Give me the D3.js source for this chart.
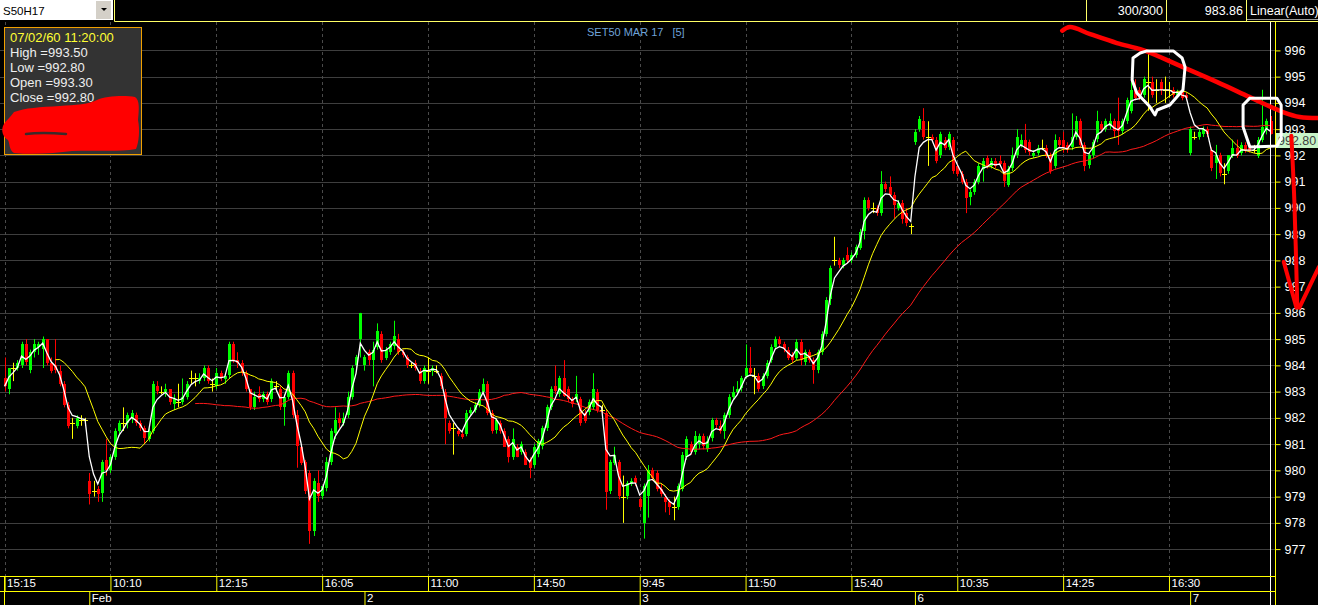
<!DOCTYPE html>
<html><head><meta charset="utf-8">
<script src="https://cdn.jsdelivr.net/npm/d3@7"></script>
<style>body{margin:0;background:#000;overflow:hidden}svg{display:block}text{font-family:"Liberation Sans",Arial,sans-serif}</style>
</head><body>
<script>
// ---------- DATA (5-minute bars, S50H17) ----------
const opens = [
983.5,983.1,983.9,983.9,984.0,984.8,983.8,984.5,984.7,984.6,985.0,984.1,984.0,983.8,983.3,982.5,981.8,981.7,981.9,981.9,
979.6,979.2,979.3,979.1,980.4,980.0,980.5,981.5,981.8,981.8,982.0,982.1,981.8,981.6,981.2,981.5,983.2,983.0,983.0,983.1,
982.5,982.6,982.6,982.8,983.5,983.5,983.4,983.5,983.9,983.3,983.2,983.7,983.5,983.6,984.8,984.2,984.1,983.7,983.1,982.4,
982.9,982.7,982.9,982.7,983.2,983.1,982.4,982.8,983.7,982.1,980.9,980.3,979.9,977.7,979.5,979.0,979.3,980.3,981.4,982.0,
981.8,982.1,982.8,984.0,985.0,
984.0,984.5,984.2,984.7,985.2,984.3,984.5,984.7,985.0,984.5,984.3,984.0,984.1,983.8,983.4,983.8,983.8,983.8,983.6,983.0,
981.8,981.6,981.5,981.4,981.4,982.2,982.3,982.5,983.0,983.3,982.2,981.5,981.8,981.5,981.2,980.5,980.9,980.7,980.7,980.4,
980.2,980.6,980.9,981.6,982.4,983.2,982.9,983.5,983.1,982.7,982.7,982.7,982.2,982.2,982.4,983.0,982.3,982.2,979.2,980.3,
980.3,979.0,979.0,979.5,979.7,
978.9,978.0,979.0,980.0,979.9,979.3,979.0,978.8,978.6,978.6,979.3,980.5,981.0,980.7,981.0,981.3,980.8,981.2,981.9,981.7,
981.5,982.1,982.8,983.0,983.1,983.6,983.9,983.6,983.6,983.2,983.6,984.2,984.7,985.0,984.8,984.6,984.4,984.3,984.9,984.1,
984.5,984.2,983.8,984.5,985.2,986.5,988.0,988.0,987.8,988.2,988.0,988.2,988.5,989.1,990.3,990.0,990.0,989.8,990.9,990.8,
990.5,990.0,990.2,989.8,989.3,
992.5,993.0,993.3,992.7,992.7,992.6,992.0,992.6,992.3,992.6,991.6,991.3,991.0,990.4,990.6,991.0,991.5,991.9,991.6,991.8,
991.8,991.7,990.9,991.5,992.0,992.4,992.6,992.5,992.0,992.1,992.3,992.3,992.0,991.6,992.6,992.6,992.4,992.3,992.7,993.3,
992.4,991.6,992.0,992.6,993.2,993.0,993.1,993.3,993.3,992.9,993.3,993.7,994.5,994.5,994.3,994.8,994.8,994.5,994.8,994.5,
994.5,994.5,994.3,994.5,994.3,
992.1,992.7,992.7,992.8,993.0,992.2,991.7,992.0,991.3,991.4,992.0,992.3,992.1,992.4,992.3,992.2,992.0,992.6,993.0,993.3];
const highs = [
984.3,983.9,984.1,984.2,984.9,985.0,984.6,985.0,984.9,985.1,985.0,984.3,985.0,984.0,983.4,982.6,982.0,982.1,982.1,982.0,
979.9,979.6,979.4,980.4,981.2,980.6,981.6,981.9,982.4,982.2,982.3,982.2,981.9,981.7,981.6,983.4,983.4,983.2,983.3,983.1,
982.9,983.3,983.5,983.4,983.8,983.7,983.7,984.0,984.0,983.5,983.9,983.8,983.7,984.9,984.9,984.5,984.2,983.8,983.1,983.0,
983.2,983.0,983.0,983.5,983.4,983.2,982.9,983.8,983.8,982.3,981.0,980.4,980.0,979.7,980.0,979.4,980.5,981.6,982.4,982.2,
982.2,983.0,984.0,984.4,986.0,
984.4,984.6,984.9,985.6,985.3,984.7,984.9,985.7,985.2,984.6,984.4,984.1,984.2,983.9,984.0,984.3,984.0,984.0,983.7,983.1,
981.9,981.8,981.6,981.5,982.3,982.4,982.6,983.1,983.5,983.4,982.3,982.0,981.9,981.6,981.3,981.6,981.0,981.1,980.8,980.5,
981.0,981.2,981.7,982.5,983.2,984.0,983.6,984.2,983.2,982.8,983.6,982.8,982.3,982.7,983.7,983.1,982.5,982.3,980.4,980.9,
980.4,979.8,979.6,979.7,979.8,
979.0,979.5,980.2,980.1,980.0,979.5,979.1,978.9,979.0,979.5,980.7,981.3,981.1,981.5,981.4,981.4,981.3,982.0,982.0,981.9,
982.2,982.9,983.2,983.4,983.6,984.8,984.7,983.9,983.7,983.7,984.2,984.8,985.1,985.1,984.9,984.7,984.5,985.0,985.0,984.6,
984.6,984.3,984.6,985.3,986.6,987.8,988.9,988.1,988.1,988.5,988.3,988.6,989.2,990.4,990.4,990.2,990.1,991.4,991.0,991.2,
990.6,990.3,990.3,990.0,989.4,
993.0,993.5,993.8,993.3,992.8,992.7,992.9,992.7,992.9,992.7,991.7,991.4,991.1,990.7,991.1,991.7,991.9,992.0,991.9,991.9,
992.0,991.8,991.6,992.3,993.0,992.8,993.2,992.6,992.2,992.4,992.6,992.4,992.1,992.8,992.7,992.9,992.5,993.6,993.5,993.4,
992.5,992.1,992.6,993.7,993.3,993.4,993.6,993.4,994.2,993.4,994.2,995.0,994.9,994.6,995.0,995.9,995.0,994.9,994.9,995.0,
994.8,994.6,994.5,994.6,994.4,
993.1,992.9,993.0,993.1,993.1,992.3,992.4,992.1,991.7,992.0,992.6,992.6,992.5,992.5,992.4,992.4,992.7,994.5,993.4,993.5];
const lows = [
983.0,982.9,983.4,983.8,983.9,984.0,983.7,984.3,984.4,983.9,984.0,983.7,983.7,983.2,982.4,981.6,981.2,981.6,981.7,981.7,
978.7,979.0,978.8,978.8,979.8,979.9,980.4,981.3,981.5,981.6,981.8,981.7,981.5,981.0,981.1,981.4,982.9,982.9,982.8,982.5,
982.3,982.4,982.5,982.7,983.3,983.2,983.3,983.4,983.3,983.0,983.1,983.4,983.3,983.5,984.1,983.9,983.6,983.0,982.3,982.3,
982.6,982.6,982.5,982.6,983.0,982.3,981.7,982.7,982.0,980.1,980.2,979.1,977.2,977.5,978.8,978.9,979.2,980.2,981.2,981.6,
981.7,982.0,982.7,983.9,984.3,
983.8,984.0,983.2,984.6,984.1,984.2,984.4,984.6,984.4,984.3,983.9,983.9,983.8,983.3,983.3,983.3,983.6,983.7,983.1,981.0,
981.4,980.6,981.3,981.2,981.3,982.1,982.2,982.4,982.9,982.1,981.4,981.4,981.4,980.9,980.3,980.4,980.5,980.6,980.2,979.7,
980.1,980.5,980.8,981.5,982.3,982.9,982.8,982.8,982.6,982.4,982.6,981.7,981.8,982.1,982.3,982.2,982.2,978.5,979.1,980.2,
978.9,978.0,978.9,979.4,979.4,
978.5,977.4,978.2,979.6,979.2,979.0,978.4,978.3,978.1,978.5,979.2,980.4,980.6,980.6,980.8,980.8,980.7,981.1,981.6,981.4,
981.2,982.0,982.7,982.9,983.0,983.5,983.6,982.9,983.0,983.1,983.5,984.1,984.6,984.7,984.5,984.2,984.1,984.2,984.0,984.0,
984.1,983.3,983.7,984.4,985.1,986.3,987.8,987.7,987.7,987.9,987.9,988.1,988.4,988.8,989.9,989.8,989.7,989.7,990.6,990.4,
989.6,989.9,989.4,989.3,989.0,
992.4,992.9,992.6,991.6,992.5,991.7,991.9,992.2,992.2,991.3,991.2,990.9,989.8,990.1,990.5,990.9,991.0,991.5,991.5,991.5,
991.6,990.8,990.8,991.4,991.9,992.3,992.1,992.0,991.9,992.0,992.2,991.9,991.3,991.5,992.3,992.1,992.1,992.2,992.6,992.3,
991.4,991.5,991.9,992.5,992.9,992.9,993.0,992.7,992.4,992.8,993.2,993.6,994.1,994.1,994.2,993.7,994.2,994.0,994.3,994.0,
994.2,994.2,994.2,994.1,994.1,
992.0,992.6,992.6,992.7,992.7,991.4,991.1,991.2,990.9,991.3,991.9,991.9,992.0,992.1,992.1,992.1,991.9,992.5,992.8,992.8];
const closes = [
983.2,983.9,983.9,984.1,984.8,984.1,984.5,984.8,984.8,985.0,984.1,983.8,983.8,983.3,982.5,981.7,981.8,982.0,981.9,981.9,
979.1,979.2,979.1,980.3,980.0,980.5,981.5,981.8,981.8,982.1,982.2,981.8,981.6,981.2,981.5,983.3,983.0,983.0,983.1,982.6,
982.7,982.6,982.8,983.3,983.5,983.5,983.5,983.9,983.4,983.3,983.7,983.5,983.6,984.8,984.2,984.1,983.7,983.1,982.4,982.8,
982.7,982.9,982.6,983.4,983.2,982.4,982.8,983.7,982.1,980.9,980.3,979.2,977.7,979.6,979.0,979.4,980.3,981.5,981.9,981.8,
982.0,982.8,983.9,984.3,986.0,
984.3,984.2,984.6,985.3,984.2,984.6,984.8,985.1,984.5,984.4,984.0,984.0,983.9,983.4,983.9,983.8,983.9,983.8,983.2,982.0,
981.5,981.6,981.4,981.3,982.2,982.3,982.5,983.0,983.3,982.2,981.5,981.9,981.5,980.9,980.5,981.2,980.5,981.0,980.2,980.1,
980.9,981.1,981.6,982.4,983.1,983.0,983.5,982.8,982.7,982.5,982.9,981.8,981.9,982.6,983.1,982.3,982.3,979.2,980.3,980.6,
979.0,979.0,979.5,979.6,979.5,
978.6,979.4,980.0,979.7,979.3,979.1,978.8,978.6,978.6,979.4,980.6,981.2,980.7,981.3,981.3,980.9,981.1,981.9,981.7,981.5,
982.1,982.8,983.0,983.1,983.5,983.9,983.7,983.6,983.1,983.6,984.1,984.7,985.0,984.8,984.6,984.3,984.2,984.9,984.2,984.5,
984.2,983.8,984.5,985.2,986.5,987.7,988.0,987.8,988.0,988.0,988.2,988.5,989.1,990.3,990.0,990.0,989.8,990.9,990.7,990.5,
990.1,990.2,989.6,989.4,989.3,
992.9,993.4,992.7,992.7,992.6,991.8,992.8,992.3,992.8,991.4,991.3,991.0,990.4,990.6,991.0,991.6,991.8,991.6,991.8,991.6,
991.7,991.0,991.5,992.0,992.7,992.6,992.2,992.1,992.1,992.3,992.3,992.0,991.4,992.6,992.4,992.3,992.2,992.7,993.3,992.4,
991.6,992.0,992.5,993.3,993.0,993.3,993.3,992.9,992.9,993.3,994.1,994.5,994.2,994.2,994.9,994.8,994.3,994.5,994.5,994.5,
994.5,994.3,994.4,994.2,994.2,
993.0,992.7,992.9,993.0,992.8,991.5,992.0,991.3,991.3,992.0,992.3,992.0,992.4,992.2,992.2,992.2,992.6,993.1,993.3,992.8];

const timeTicks  = [0, 25, 50, 75, 100, 125, 150, 175, 200, 225, 250, 275];
const timeLabels = ["15:15","10:10","12:15","16:05","11:00","14:50","9:45","11:50","15:40","10:35","14:25","16:30"];
const dayStarts  = [20, 85, 150, 215, 280];
const dayLabels  = ["Feb","2","3","6","7"];
const priceTicks = [977,978,979,980,981,982,983,984,985,986,987,988,989,990,991,992,993,994,995,996];
const symbol = "S50H17", chartTitle = "SET50 MAR 17", periodTag = "[5]";
const barCount = "300/300", cursorValue = "983.86", scaleMode = "Linear(Auto)";
const tipTime = "07/02/60 11:20:00";
const fastPeriod = 3, midPeriod = 13, slowPeriod = 46;

// hand-drawn annotations, in (bar index, price) space
const trendMark = [[249.8,996.75],[251.6,996.89],[256.4,996.62],[262.7,996.28],[268.9,996.01],[278.3,995.36],[286.4,994.79],[294.1,994.22],[301.9,993.65],[305.9,993.46],[310.5,993.42]];
const arrowShaft = [[303.9,992.75],[304.6,990.3],[305.3,986.3]];
const arrowLeft  = [[302.1,987.95],[305.1,986.2]];
const arrowRight = [[310.4,987.75],[305.8,986.2]];
const ring1 = [[268.2,995.90],[269.8,995.98],[276.0,995.98],[278.1,995.71],[278.8,995.37],[278.3,994.49],[275.2,993.92],[272.2,993.73],[271.7,993.54],[270.5,993.85],[267.4,994.38],[266.3,994.87],[266.5,995.71],[268.2,995.90]];
const ring2 = [[294.1,994.18],[300.5,994.18],[301.5,993.92],[301.5,992.66],[300.5,992.36],[294.1,992.32],[292.5,993.08],[292.5,993.92],[294.1,994.18]];

// ---------- CHART ----------
const W = 1318, H = 605;
const plotTop = 22, plotBottom = 576, axisX = 1275.5, cursorX = 1270.5;
const svg = d3.select("body").append("svg").attr("width", W).attr("height", H).style("background", "#000");
const x = d3.scaleLinear().domain([0, closes.length - 1]).range([4.6, 1270.6]);
const y = d3.scaleLinear().domain([977, 996]).range([549.1, 50.4]);
const px = v => Math.round(v) + 0.5;

svg.append("defs").append("clipPath").attr("id", "plot")
  .append("rect").attr("x", 0).attr("y", plotTop).attr("width", axisX).attr("height", plotBottom - plotTop);

// grid
svg.append("g").selectAll("line").data(priceTicks).join("line")
  .attr("x1", 0).attr("x2", axisX).attr("y1", d => px(y(d))).attr("y2", d => px(y(d)))
  .attr("stroke", "#3e3e3e").attr("stroke-width", 1);
svg.append("g").selectAll("line").data(timeTicks).join("line")
  .attr("x1", d => px(x(d))).attr("x2", d => px(x(d))).attr("y1", plotTop).attr("y2", plotBottom)
  .attr("stroke", "#4a4a4a").attr("stroke-dasharray", "3,3");

// title
const tg = svg.append("text").attr("x", 587).attr("y", 36).attr("fill", "#6fa3d9").style("font-size", "11px");
tg.append("tspan").text(chartTitle);
tg.append("tspan").attr("dx", 9).text(periodTag);

const plot = svg.append("g").attr("clip-path", "url(#plot)");
const idx = d3.range(closes.length);
const col = i => closes[i] > opens[i] ? "#00ff00" : (closes[i] < opens[i] ? "#ff0000" : "#ffff00");

// wicks
plot.append("g").selectAll("line").data(idx).join("line")
  .attr("x1", i => px(x(i))).attr("x2", i => px(x(i)))
  .attr("y1", i => y(highs[i])).attr("y2", i => y(lows[i]))
  .attr("stroke", col).attr("stroke-width", 1);
// bodies
plot.append("g").selectAll("rect").data(idx).join("rect")
  .attr("x", i => Math.round(x(i)) - (opens[i] === closes[i] ? 2 : 1))
  .attr("width", i => opens[i] === closes[i] ? 5 : 3)
  .attr("y", i => Math.round(y(Math.max(opens[i], closes[i]))))
  .attr("height", i => Math.max(1, Math.round(Math.abs(y(opens[i]) - y(closes[i])))))
  .attr("fill", col);

// indicator lines
function sma(n) { const out = []; for (let i = n - 1; i < closes.length; i++) out.push([i, d3.mean(closes.slice(i - n + 1, i + 1))]); return out; }
function ema(n) { const a = 2 / (n + 1); const out = [[0, closes[0]]]; for (let i = 1; i < closes.length; i++) out.push([i, out[i - 1][1] + a * (closes[i] - out[i - 1][1])]); return out; }
const line = d3.line().x(d => x(d[0])).y(d => y(d[1]));
plot.append("path").datum(sma(slowPeriod)).attr("d", line).attr("fill", "none").attr("stroke", "#ff1a1a").attr("stroke-width", 1);
plot.append("path").datum(sma(midPeriod)).attr("d", line).attr("fill", "none").attr("stroke", "#ffff00").attr("stroke-width", 1);
plot.append("path").datum(ema(fastPeriod)).attr("d", line).attr("fill", "none").attr("stroke", "#ffffff").attr("stroke-width", 1.3);

// right axis
const yAxis = d3.axisRight(y).tickValues(priceTicks).tickSize(5).tickPadding(4).tickFormat(d3.format("d"));
const ya = svg.append("g").attr("transform", `translate(${axisX},0)`).call(yAxis);
ya.select(".domain").remove();
ya.selectAll(".tick line").attr("stroke", "#ffff00");
ya.selectAll(".tick text").attr("fill", "#ffffff").style("font-size", "12.5px").style("font-family", "'Liberation Sans',Arial,sans-serif");
svg.append("line").attr("x1", cursorX).attr("x2", cursorX).attr("y1", plotTop).attr("y2", H).attr("stroke", "#ffffff");
svg.append("line").attr("x1", axisX).attr("x2", axisX).attr("y1", plotTop).attr("y2", H).attr("stroke", "#ffff00");

// last price label
const last = closes[closes.length - 1];
svg.append("rect").attr("x", 1276).attr("y", Math.round(y(last)) - 1).attr("width", 42).attr("height", 15).attr("fill", "#c8f5c8");
svg.append("text").attr("x", 1278).attr("y", Math.round(y(last)) + 11).attr("fill", "#404040").style("font-size", "12.5px").text(last.toFixed(2));

// bottom axes
const xAxis = d3.axisBottom(x).tickValues(timeTicks).tickSize(15).tickFormat((d, k) => timeLabels[k]);
const xa = svg.append("g").attr("transform", `translate(0,${plotBottom})`).call(xAxis);
xa.select(".domain").remove();
xa.selectAll(".tick line").attr("stroke", "#ffff00");
xa.selectAll(".tick text").attr("x", 2).attr("y", 3).attr("dy", "0.71em").attr("text-anchor", "start")
  .attr("fill", "#ffffff").style("font-size", "11.5px").style("font-family", "'Liberation Sans',Arial,sans-serif");
const dAxis = d3.axisBottom(x).tickValues(dayStarts).tickSize(15).tickFormat((d, k) => dayLabels[k]);
const da = svg.append("g").attr("transform", `translate(0,${plotBottom + 15})`).call(dAxis);
da.select(".domain").remove();
da.selectAll(".tick line").attr("stroke", "#ffff00");
da.selectAll(".tick text").attr("x", 2).attr("y", 3).attr("dy", "0.71em").attr("text-anchor", "start")
  .attr("fill", "#ffffff").style("font-size", "11.5px").style("font-family", "'Liberation Sans',Arial,sans-serif");
svg.append("line").attr("x1", 0).attr("x2", axisX).attr("y1", plotBottom + 0.5).attr("y2", plotBottom + 0.5).attr("stroke", "#ffff00");
svg.append("line").attr("x1", 0).attr("x2", axisX).attr("y1", plotBottom + 15.5).attr("y2", plotBottom + 15.5).attr("stroke", "#ffff00");
svg.append("line").attr("x1", 4.5).attr("x2", 4.5).attr("y1", plotBottom).attr("y2", H).attr("stroke", "#ffff00");

// top bar
svg.append("rect").attr("x", 0).attr("y", 0).attr("width", 113).attr("height", 20).attr("fill", "#ffffff");
svg.append("text").attr("x", 3).attr("y", 14.5).attr("fill", "#000").style("font-size", "11.5px").text(symbol);
svg.append("rect").attr("x", 96).attr("y", 1).attr("width", 15).attr("height", 18).attr("fill", "#d4d0c8");
svg.append("path").attr("d", "M101,8 L107,8 L104,11 Z").attr("fill", "#000");
svg.append("path").attr("d", "M114.5,0 L114.5,21.5 L1318,21.5").attr("fill", "none").attr("stroke", "#ffff66");
[1086.5, 1166.5, 1246.5].forEach(v => svg.append("line").attr("x1", v).attr("x2", v).attr("y1", 0).attr("y2", 21).attr("stroke", "#ffff66"));
svg.append("line").attr("x1", 1247).attr("x2", 1318).attr("y1", 19.5).attr("y2", 19.5).attr("stroke", "#9a9a9a");
svg.append("text").attr("x", 1163).attr("y", 15).attr("text-anchor", "end").attr("fill", "#fff").style("font-size", "12.5px").text(barCount);
svg.append("text").attr("x", 1243).attr("y", 15).attr("text-anchor", "end").attr("fill", "#fff").style("font-size", "12.5px").text(cursorValue);
svg.append("text").attr("x", 1250).attr("y", 15).attr("fill", "#fff").style("font-size", "12.5px").text(scaleMode);

// tooltip
const n = closes.length - 1;
svg.append("rect").attr("x", 4.5).attr("y", 27.5).attr("width", 137).attr("height", 127).attr("fill", "#333333").attr("stroke", "#f0a000");
const tipLines = [tipTime, "High =" + highs[n].toFixed(2), "Low =" + lows[n].toFixed(2), "Open =" + opens[n].toFixed(2), "Close =" + closes[n].toFixed(2)];
svg.append("g").selectAll("text").data(tipLines).join("text")
  .attr("x", 10).attr("y", (d, k) => 41.5 + k * 15).attr("fill", (d, k) => k === 0 ? "#ffff33" : "#eeeeee")
  .style("font-size", "13px").text(d => d);
// red scribble over the tooltip (solid blob)
svg.append("path")
  .attr("d", "M14,112 C25,108 40,107 60,106 C75,105 90,104 97,100 C105,96 125,95 135,97 C140,100 139,110 138,120 C140,130 139,142 136,149 C120,152 95,150 72,151 C55,153 35,155 14,153 C9,150 10,144 8,140 C3,137 1,131 3,126 C5,121 10,118 14,112 Z")
  .attr("fill", "#ff0000");
svg.append("path").attr("d", "M26,134 C40,132 55,133 66,134").attr("fill", "none").attr("stroke", "#3a2a2a").attr("stroke-width", 2.5).attr("stroke-linecap", "round");

// annotations
const aLine = d3.line().x(d => x(d[0])).y(d => y(d[1])).curve(d3.curveCatmullRom);
const ann = svg.append("g").attr("fill", "none").attr("stroke-linecap", "round").attr("stroke-linejoin", "round");
ann.append("path").datum(trendMark).attr("d", aLine).attr("stroke", "#ff0000").attr("stroke-width", 4.5);
ann.append("path").datum(arrowShaft).attr("d", aLine).attr("stroke", "#ff0000").attr("stroke-width", 4);
ann.append("path").datum(arrowLeft).attr("d", aLine).attr("stroke", "#ff0000").attr("stroke-width", 4);
ann.append("path").datum(arrowRight).attr("d", aLine).attr("stroke", "#ff0000").attr("stroke-width", 4);
const ringLine = d3.line().x(d => x(d[0])).y(d => y(d[1]));
ann.append("path").datum(ring1).attr("d", ringLine).attr("stroke", "#ffffff").attr("stroke-width", 3);
ann.append("path").datum(ring2).attr("d", ringLine).attr("stroke", "#ffffff").attr("stroke-width", 3);
</script>
</body></html>
